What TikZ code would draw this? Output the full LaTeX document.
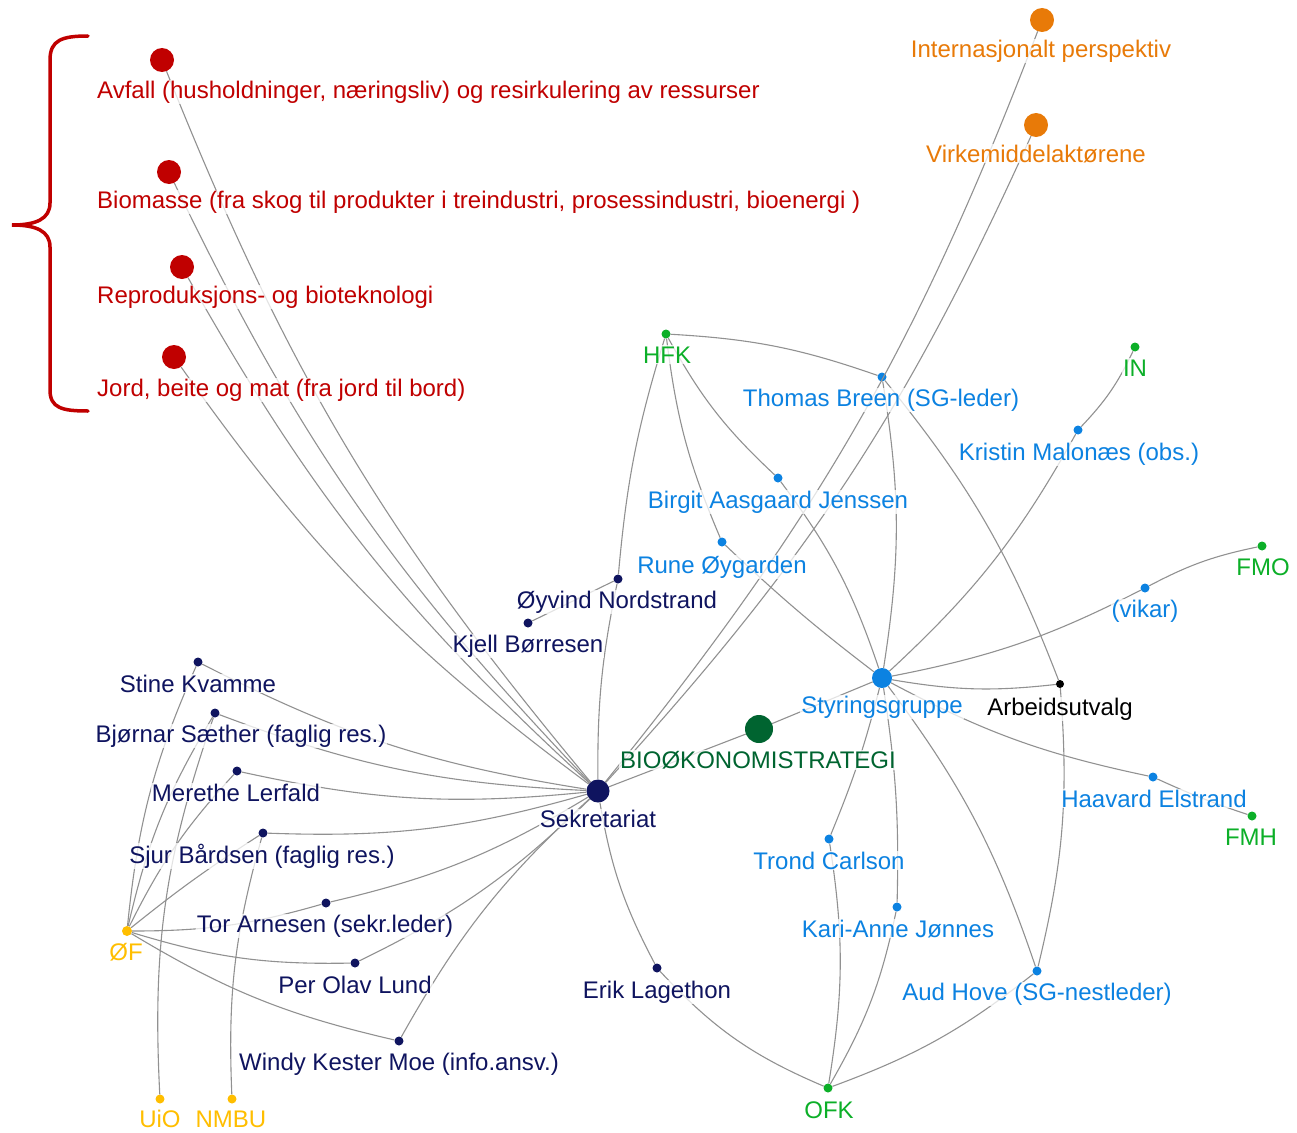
\documentclass[tikz,border=0pt]{standalone}
\usepackage{fontspec}
\setmainfont{Liberation Sans}
\definecolor{topicred}{RGB}{192,0,0}
\definecolor{orng}{RGB}{232,122,8}
\definecolor{orggreen}{RGB}{12,175,40}
\definecolor{biogreen}{RGB}{0,100,48}
\definecolor{sgblue}{RGB}{12,130,225}
\definecolor{sekblue}{RGB}{15,20,95}
\definecolor{ofgold}{RGB}{255,190,0}
\definecolor{edgegray}{RGB}{145,145,145}

\begin{document}
\begin{tikzpicture}[x=1pt, y=-1pt]
	\tikzset{dot/.style={circle, inner sep=0pt, minimum size=9pt},
		txt/.style={font=\fontsize{24}{28}\selectfont, inner sep=1pt, anchor=base,
			fill=white, fill opacity=0.75, text opacity=1},
		edge/.style={draw=edgegray, line width=1.1pt}};
	\useasboundingbox (0,0) rectangle (1297,1132);

	% temaer
	\node[dot, fill=topicred, minimum size=24pt] (avfall) at (162,60) {};
	\node[dot, fill=topicred, minimum size=24pt] (biomasse) at (169,172) {};
	\node[dot, fill=topicred, minimum size=24pt] (repro) at (182,267) {};
	\node[dot, fill=topicred, minimum size=24pt] (jord) at (174,357) {};
	\node[dot, fill=orng, minimum size=24pt] (intern) at (1042,20) {};
	\node[dot, fill=orng, minimum size=24pt] (virk) at (1036,125) {};

	\draw[topicred, line width=3.5pt, line cap=round] (88,36) .. controls (62,36) and (50,40) .. (50,60) -- (50,203)
		.. controls (50,219) and (36,225) .. (12,225) .. controls (36,225) and (50,231) .. (50,247)
		-- (50,390) .. controls (50,408) and (62,411) .. (88,411);

	% organisasjoner
	\node[dot, fill=orggreen] (hfk) at (666,334) {};
	\node[dot, fill=orggreen] (in) at (1135,347) {};
	\node[dot, fill=orggreen] (fmo) at (1262,546) {};
	\node[dot, fill=orggreen] (fmh) at (1252,816) {};
	\node[dot, fill=orggreen] (ofk) at (828,1088) {};
	\node[dot, fill=ofgold, minimum size=10pt] (of) at (127,931) {};
	\node[dot, fill=ofgold] (uio) at (160,1099) {};
	\node[dot, fill=ofgold] (nmbu) at (232,1099) {};
	\node[dot, fill=biogreen, minimum size=28pt] (bio) at (759,729) {};

	% styringsgruppe
	\node[dot, fill=sgblue, minimum size=20pt] (sg) at (882,678) {};
	\node[dot, fill=sgblue] (tb) at (882,377) {};
	\node[dot, fill=sgblue] (kristin) at (1078,430) {};
	\node[dot, fill=sgblue] (birgit) at (778,478) {};
	\node[dot, fill=sgblue] (rune) at (722,542) {};
	\node[dot, fill=sgblue] (vikar) at (1145,588) {};
	\node[dot, fill=sgblue] (haavard) at (1153,777) {};
	\node[dot, fill=sgblue] (trond) at (829,839) {};
	\node[dot, fill=sgblue] (kari) at (897,907) {};
	\node[dot, fill=sgblue] (aud) at (1037,971) {};
	\node[dot, fill=black, minimum size=8pt] (au) at (1060,684) {};

	% sekretariat
	\node[dot, fill=sekblue, minimum size=23pt] (sek) at (598,791) {};
	\node[dot, fill=sekblue] (oyvind) at (618,579) {};
	\node[dot, fill=sekblue] (kjell) at (528,623) {};
	\node[dot, fill=sekblue] (stine) at (198,662) {};
	\node[dot, fill=sekblue] (bjornar) at (215,713) {};
	\node[dot, fill=sekblue] (merethe) at (237,771) {};
	\node[dot, fill=sekblue] (sjur) at (263,833) {};
	\node[dot, fill=sekblue] (tor) at (326,903) {};
	\node[dot, fill=sekblue] (per) at (355,963) {};
	\node[dot, fill=sekblue] (windy) at (399,1041) {};
	\node[dot, fill=sekblue] (erik) at (657,968) {};

	\draw[edge] (avfall) to[bend right=9] (sek);
	\draw[edge] (biomasse) to[bend right=9] (sek);
	\draw[edge] (repro) to[bend right=9] (sek);
	\draw[edge] (jord) to[bend right=9] (sek);
	\draw[edge] (intern) to[bend left=9] (sek);
	\draw[edge] (virk) to[bend left=9] (sek);
	\draw[edge] (sek) to (bio);
	\draw[edge] (bio) to (sg);

	\draw[edge] (hfk) to[bend left=8] (tb);
	\draw[edge] (hfk) to[bend right=9] (birgit);
	\draw[edge] (hfk) to[bend right=8] (rune);
	\draw[edge] (hfk) to[bend right=6] (oyvind);
	\draw[edge] (kjell) to (oyvind);
	\draw[edge] (oyvind) to[bend right=6] (sek);
	\draw[edge] (tb) to[bend left=9] (sg);
	\draw[edge] (tb) to[bend left=9] (au);
	\draw[edge] (birgit) to[bend left=9] (sg);
	\draw[edge] (rune) to[bend right=3] (sg);
	\draw[edge] (kristin) to[bend right=9] (in);
	\draw[edge] (kristin) to[bend left=9] (sg);
	\draw[edge] (vikar) to[bend left=8] (fmo);
	\draw[edge] (vikar) to[bend left=8] (sg);
	\draw[edge] (sg) to[bend right=8] (au);
	\draw[edge] (au) to[bend left=9] (aud);
	\draw[edge] (sg) to[bend left=9] (aud);
	\draw[edge] (aud) to[bend left=9] (ofk);
	\draw[edge] (sg) to[bend right=8] (haavard);
	\draw[edge] (haavard) to[bend right=3] (fmh);
	\draw[edge] (sg) to[bend left=4] (trond);
	\draw[edge] (trond) to[bend left=9] (ofk);
	\draw[edge] (sg) to[bend left=5] (kari);
	\draw[edge] (kari) to[bend left=9] (ofk);
	\draw[edge] (sek) to[bend right=9] (erik);
	\draw[edge] (erik) to[bend right=12] (ofk);

	\draw[edge] (stine) to[bend right=9] (sek);
	\draw[edge] (bjornar) to[bend right=9] (sek);
	\draw[edge] (merethe) to[bend right=9] (sek);
	\draw[edge] (sjur) to[bend right=9] (sek);
	\draw[edge] (tor) to[bend right=9] (sek);
	\draw[edge] (per) to[bend right=9] (sek);
	\draw[edge] (windy) to[bend left=9] (sek);
	\draw[edge] (of) to[bend left=9] (stine);
	\draw[edge] (of) to[bend left=9] (bjornar);
	\draw[edge] (of) to[bend left=8] (merethe);
	\draw[edge] (of) to[bend left=3] (sjur);
	\draw[edge] (of) to[bend right=8] (tor);
	\draw[edge] (of) to[bend right=9] (per);
	\draw[edge] (of) to[bend right=9] (windy);
	\draw[edge] (bjornar) to[bend right=11] (uio);
	\draw[edge] (sjur) to[bend right=9] (nmbu);

	% tekster
	\node[topicred, txt, anchor=base west] (avfallT) at (96,98) {Avfall (husholdninger, næringsliv) og resirkulering av ressurser};
	\node[topicred, txt, anchor=base west] (biomasseT) at (96,208) {Biomasse (fra skog til produkter i treindustri, prosessindustri, bioenergi )};
	\node[topicred, txt, anchor=base west] (reproT) at (96,303) {Reproduksjons- og bioteknologi};
	\node[topicred, txt, anchor=base west] (jordT) at (96,396) {Jord, beite og mat (fra jord til bord)};
	\node[orng, txt] (internT) at (1041,57) {Internasjonalt perspektiv};
	\node[orng, txt] (virkT) at (1036,162) {Virkemiddelaktørene};

	\node[orggreen, txt] (hfkT) at (667,363) {HFK};
	\node[orggreen, txt] (inT) at (1135,376) {IN};
	\node[orggreen, txt] (fmoT) at (1263,575) {FMO};
	\node[orggreen, txt] (fmhT) at (1251,845) {FMH};
	\node[orggreen, txt] (ofkT) at (829,1118) {OFK};
	\node[ofgold, txt] (ofT) at (126,960) {ØF};
	\node[ofgold, txt] (uioT) at (160,1127) {UiO};
	\node[ofgold, txt] (nmbuT) at (231,1127) {NMBU};
	\node[biogreen, txt] (bioT) at (758,768) {BIOØKONOMISTRATEGI};

	\node[sgblue, txt] (sgT) at (882,713) {Styringsgruppe};
	\node[sgblue, txt] (tbT) at (881,406) {Thomas Breen (SG-leder)};
	\node[sgblue, txt] (kristinT) at (1079,460) {Kristin Malonæs (obs.)};
	\node[sgblue, txt] (birgitT) at (778,508) {Birgit Aasgaard Jenssen};
	\node[sgblue, txt] (runeT) at (722,573) {Rune Øygarden};
	\node[sgblue, txt] (vikarT) at (1145,617) {(vikar)};
	\node[sgblue, txt] (haavardT) at (1154,807) {Haavard Elstrand};
	\node[sgblue, txt] (trondT) at (829,869) {Trond Carlson};
	\node[sgblue, txt] (kariT) at (898,937) {Kari-Anne Jønnes};
	\node[sgblue, txt] (audT) at (1037,1000) {Aud Hove (SG-nestleder)};
	\node[black, txt] (auT) at (1060,715) {Arbeidsutvalg};

	\node[sekblue, txt] (sekT) at (598,827) {Sekretariat};
	\node[sekblue, txt] (oyvindT) at (617,608) {Øyvind Nordstrand};
	\node[sekblue, txt] (kjellT) at (528,652) {Kjell Børresen};
	\node[sekblue, txt] (stineT) at (198,692) {Stine Kvamme};
	\node[sekblue, txt] (bjornarT) at (241,742) {Bjørnar Sæther (faglig res.)};
	\node[sekblue, txt] (meretheT) at (236,801) {Merethe Lerfald};
	\node[sekblue, txt] (sjurT) at (262,863) {Sjur Bårdsen (faglig res.)};
	\node[sekblue, txt] (torT) at (325,932) {Tor Arnesen (sekr.leder)};
	\node[sekblue, txt] (perT) at (355,993) {Per Olav Lund};
	\node[sekblue, txt] (windyT) at (399,1070) {Windy Kester Moe (info.ansv.)};
	\node[sekblue, txt] (erikT) at (657,998) {Erik Lagethon};
\end{tikzpicture}
\end{document}
